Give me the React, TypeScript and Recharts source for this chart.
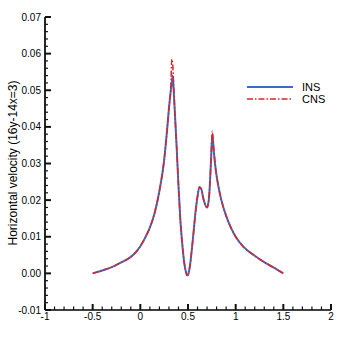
import { LineChart, Line, XAxis, YAxis } from "recharts";

const xs = [-0.5, -0.4, -0.3, -0.2, -0.1, -0.05, 0, 0.05, 0.1, 0.15, 0.2, 0.25, 0.28, 0.3, 0.32, 0.33, 0.34, 0.35, 0.36, 0.38, 0.4, 0.42, 0.44, 0.46, 0.48, 0.49, 0.5, 0.52, 0.55, 0.58, 0.6, 0.62, 0.64, 0.66, 0.68, 0.7, 0.72, 0.74, 0.755, 0.77, 0.79, 0.82, 0.85, 0.9, 0.95, 1.0, 1.08, 1.2, 1.29, 1.4, 1.5];
const ins = [0, 0.0008, 0.0017, 0.003, 0.0045, 0.0057, 0.0074, 0.0097, 0.0125, 0.0165, 0.0225, 0.031, 0.039, 0.045, 0.05, 0.052, 0.054, 0.05, 0.045, 0.035, 0.024, 0.0145, 0.008, 0.003, 0.0002, -0.0005, -0.0004, 0.002, 0.009, 0.017, 0.021, 0.0236, 0.023, 0.0205, 0.0188, 0.018, 0.0205, 0.03, 0.038, 0.0335, 0.0285, 0.0236, 0.02, 0.0157, 0.0125, 0.01, 0.0073, 0.0048, 0.0032, 0.0016, 0];
const cns = [0, 0.0008, 0.0017, 0.003, 0.0045, 0.0057, 0.0074, 0.0097, 0.0125, 0.0165, 0.0225, 0.031, 0.039, 0.045, 0.051, 0.0585, 0.057, 0.051, 0.045, 0.035, 0.024, 0.0145, 0.008, 0.003, 0.0002, -0.0005, -0.0004, 0.002, 0.009, 0.017, 0.021, 0.0236, 0.023, 0.0205, 0.0188, 0.018, 0.0205, 0.03, 0.0388, 0.034, 0.0285, 0.0236, 0.02, 0.0157, 0.0125, 0.01, 0.0073, 0.0048, 0.0032, 0.0016, 0];

const xMajor = [-1, -0.5, 0, 0.5, 1, 1.5, 2];
const yMajor = [-0.01, 0, 0.01, 0.02, 0.03, 0.04, 0.05, 0.06, 0.07];
const xLabels = ["-1", "-0.5", "0", "0.5", "1", "1.5", "2"];
const yLabels = ["-0.01", "0.00", "0.01", "0.02", "0.03", "0.04", "0.05", "0.06", "0.07"];
const seriesNames = ["INS", "CNS"];

const data = xs.map((x, i) => ({ x, ins: ins[i], cns: cns[i] }));

const FONT = "'Liberation Sans', Arial, sans-serif";
const TICK = "#111";
const BLUE = "#3b6cc0";
const RED = "#d9262b";

function majorIndex(list: number[], v: number) {
  return list.findIndex((m) => Math.abs(m - v) < 1e-9);
}

// inward ticks, tecplot style: each major tick also draws the 4 minor ticks after it
function YTick(props: any) {
  const { x, y, payload, height } = props;
  const i = majorIndex(yMajor, payload.value);
  const step = height / (yMajor.length - 1) / 5;
  const minors = i < yMajor.length - 1 ? [1, 2, 3, 4] : [];
  return (
    <g>
      <line x1={x} y1={y} x2={x + 6} y2={y} stroke={TICK} strokeWidth={2} />
      {minors.map((k) => (
        <line key={k} x1={x} y1={y - k * step} x2={x + 3} y2={y - k * step} stroke={TICK} strokeWidth={1.2} />
      ))}
      <text x={x - 4} y={y} textAnchor="end" dominantBaseline="central" fontSize={10} fontFamily={FONT} fill="#000">
        {yLabels[i]}
      </text>
    </g>
  );
}

function XTick(props: any) {
  const { x, y, payload, width } = props;
  const i = majorIndex(xMajor, payload.value);
  const step = width / (xMajor.length - 1) / 5;
  const minors = i < xMajor.length - 1 ? [1, 2, 3, 4] : [];
  return (
    <g>
      <line x1={x} y1={y} x2={x} y2={y - 6} stroke={TICK} strokeWidth={2} />
      {minors.map((k) => (
        <line key={k} x1={x + k * step} y1={y} x2={x + k * step} y2={y - 3.5} stroke={TICK} strokeWidth={1.2} />
      ))}
      <text x={x} y={y + 3} textAnchor="middle" dominantBaseline="hanging" fontSize={10} fontFamily={FONT} fill="#000">
        {xLabels[i]}
      </text>
    </g>
  );
}

function LegendBox() {
  return (
    <svg width={90} height={30} style={{ position: "absolute", left: 245, top: 80 }}>
      <line x1={2} x2={48} y1={7} y2={7} stroke={BLUE} strokeWidth={2} />
      <text x={57} y={7} dominantBaseline="central" fontSize={11} fontFamily={FONT}>{seriesNames[0]}</text>
      <line x1={2} x2={48} y1={19} y2={19} stroke={RED} strokeWidth={1.5} strokeDasharray="6 2 1.5 2" />
      <text x={57} y={19} dominantBaseline="central" fontSize={11} fontFamily={FONT}>{seriesNames[1]}</text>
    </svg>
  );
}

export default function App() {
  return (
    <div style={{ position: "absolute", left: 0, top: 0, width: 347, height: 347, background: "#fff" }}>
      <LineChart width={347} height={347} data={data} margin={{ top: 17, right: 16, bottom: 0, left: 0 }}>
        <XAxis
          dataKey="x"
          type="number"
          domain={[-1, 2]}
          ticks={xMajor}
          interval={0}
          height={37}
          tickSize={0}
          tickMargin={0}
          tickLine={false}
          tick={<XTick />}
          axisLine={{ stroke: "#000", strokeWidth: 1.7 }}
          allowDataOverflow
        />
        <YAxis
          type="number"
          domain={[-0.01, 0.07]}
          ticks={yMajor}
          interval={0}
          width={45}
          tickSize={0}
          tickMargin={0}
          tickLine={false}
          tick={<YTick />}
          axisLine={{ stroke: "#000", strokeWidth: 1.7 }}
          allowDataOverflow
          label={{
            content: () => (
              <text
                x={13}
                y={163}
                transform="rotate(-90 13 163)"
                textAnchor="middle"
                dominantBaseline="central"
                fontSize={12}
                fontFamily={FONT}
                fill="#000"
              >
                Horizontal velocity (16y-14x=3)
              </text>
            ),
          }}
        />
        <Line dataKey="ins" name={seriesNames[0]} type="monotone" stroke={BLUE} strokeWidth={2} dot={false} isAnimationActive={false} />
        <Line dataKey="cns" name={seriesNames[1]} type="monotone" stroke={RED} strokeWidth={1.5} strokeDasharray="6 2 1.5 2" dot={false} isAnimationActive={false} />
      </LineChart>
      <LegendBox />
    </div>
  );
}
